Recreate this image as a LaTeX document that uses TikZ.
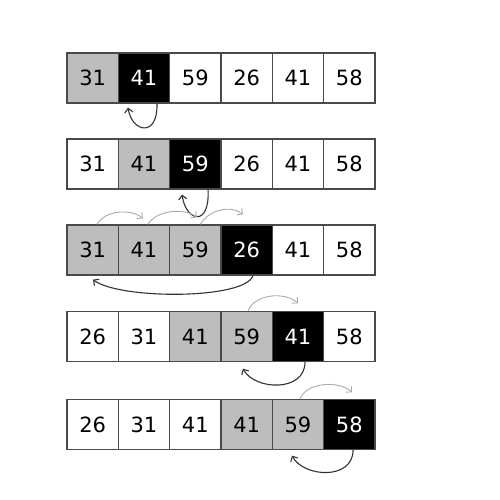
\documentclass[tikz,border=0pt]{standalone}
\usepackage{fontspec}
\setmainfont{DejaVu Sans}
\usetikzlibrary{arrows.meta}
\definecolor{cellgray}{HTML}{BDBDBD}
\definecolor{edge}{HTML}{4A4A4A}
\definecolor{darkarr}{HTML}{333333}
\definecolor{lightarr}{HTML}{ABABAB}
\tikzset{
  cell/.style={draw=edge, line width=1.3pt, minimum width=51.33pt, minimum height=50pt, inner sep=0pt, font=\fontsize{21}{25}\selectfont, text=black},
  wcell/.style={cell, fill=white},
  gcell/.style={cell, fill=cellgray},
  bcell/.style={cell, fill=black, text=white},
  darrow/.style={draw=darkarr, line width=1.1pt, -{Straight Barb[length=4pt,width=8pt]}},
  larrow/.style={draw=lightarr, line width=0.9pt, -{Straight Barb[length=4pt,width=8pt]}}
}
\begin{document}
\begin{tikzpicture}
\useasboundingbox[fill=white] (0,0) rectangle (500pt,-500pt);
% row 1
\node[gcell] (c11) at (92.67pt,-78pt) {31};
\node[bcell] (c12) at (144pt,-78pt) {41};
\node[wcell] (c13) at (195.33pt,-78pt) {59};
\node[wcell] (c14) at (246.67pt,-78pt) {26};
\node[wcell] (c15) at (298pt,-78pt) {41};
\node[wcell] (c16) at (349.33pt,-78pt) {58};
% row 2
\node[wcell] (c21) at (92.67pt,-164pt) {31};
\node[gcell] (c22) at (144pt,-164pt) {41};
\node[bcell] (c23) at (195.33pt,-164pt) {59};
\node[wcell] (c24) at (246.67pt,-164pt) {26};
\node[wcell] (c25) at (298pt,-164pt) {41};
\node[wcell] (c26) at (349.33pt,-164pt) {58};
% row 3
\node[gcell] (c31) at (92.67pt,-250pt) {31};
\node[gcell] (c32) at (144pt,-250pt) {41};
\node[gcell] (c33) at (195.33pt,-250pt) {59};
\node[bcell] (c34) at (246.67pt,-250pt) {26};
\node[wcell] (c35) at (298pt,-250pt) {41};
\node[wcell] (c36) at (349.33pt,-250pt) {58};
% row 4
\node[wcell] (c41) at (92.67pt,-336.5pt) {26};
\node[wcell] (c42) at (144pt,-336.5pt) {31};
\node[gcell] (c43) at (195.33pt,-336.5pt) {41};
\node[gcell] (c44) at (246.67pt,-336.5pt) {59};
\node[bcell] (c45) at (298pt,-336.5pt) {41};
\node[wcell] (c46) at (349.33pt,-336.5pt) {58};
% row 5
\node[wcell] (c51) at (92.67pt,-424.5pt) {26};
\node[wcell] (c52) at (144pt,-424.5pt) {31};
\node[wcell] (c53) at (195.33pt,-424.5pt) {41};
\node[gcell] (c54) at (246.67pt,-424.5pt) {41};
\node[gcell] (c55) at (298pt,-424.5pt) {59};
\node[bcell] (c56) at (349.33pt,-424.5pt) {58};
% row 1 loop
\draw[darrow] ([xshift=13pt]c12.south) .. controls +(1pt,-34pt) and +(4pt,-25pt) .. ([xshift=-16pt,yshift=-4pt]c12.south);
% row 2 loop
\draw[darrow] ([xshift=12.7pt]c23.south) .. controls +(2pt,-38pt) and +(4pt,-27pt) .. ([xshift=-13.3pt,yshift=-5pt]c23.south);
% row 3 light arcs
\draw[larrow] ([xshift=4.3pt]c31.north) .. controls +(8pt,14pt) and +(-13pt,10pt) .. ([xshift=-1pt,yshift=6pt]c32.north);
\draw[larrow] ([xshift=4pt]c32.north) .. controls +(8pt,14pt) and +(-13pt,10pt) .. ([xshift=1.7pt,yshift=7pt]c33.north);
\draw[larrow] ([xshift=5pt]c33.north) .. controls +(8pt,14pt) and +(-13pt,10pt) .. ([xshift=-3.7pt,yshift=10pt]c34.north);
% row 3 long return
\draw[darrow] ([xshift=6.3pt]c34.south) .. controls +(-8pt,-24pt) and +(27pt,-20pt) .. ([xshift=0.3pt,yshift=-4pt]c31.south);
% row 4
\draw[larrow] ([xshift=1.3pt]c44.north) .. controls +(7pt,17pt) and +(-13pt,12pt) .. ([yshift=7.5pt]c45.north);
\draw[darrow] ([xshift=7pt]c45.south) .. controls +(0pt,-30pt) and +(12pt,-22pt) .. ([xshift=-3.7pt,yshift=-6.5pt]c44.south);
% row 5
\draw[larrow] ([xshift=2pt]c55.north) .. controls +(7pt,17pt) and +(-13pt,12pt) .. ([xshift=2.7pt,yshift=6.5pt]c56.north);
\draw[darrow] ([xshift=3.7pt]c56.south) .. controls +(0pt,-30pt) and +(12pt,-22pt) .. ([xshift=-6pt,yshift=-5.5pt]c55.south);
\end{tikzpicture}
\end{document}
